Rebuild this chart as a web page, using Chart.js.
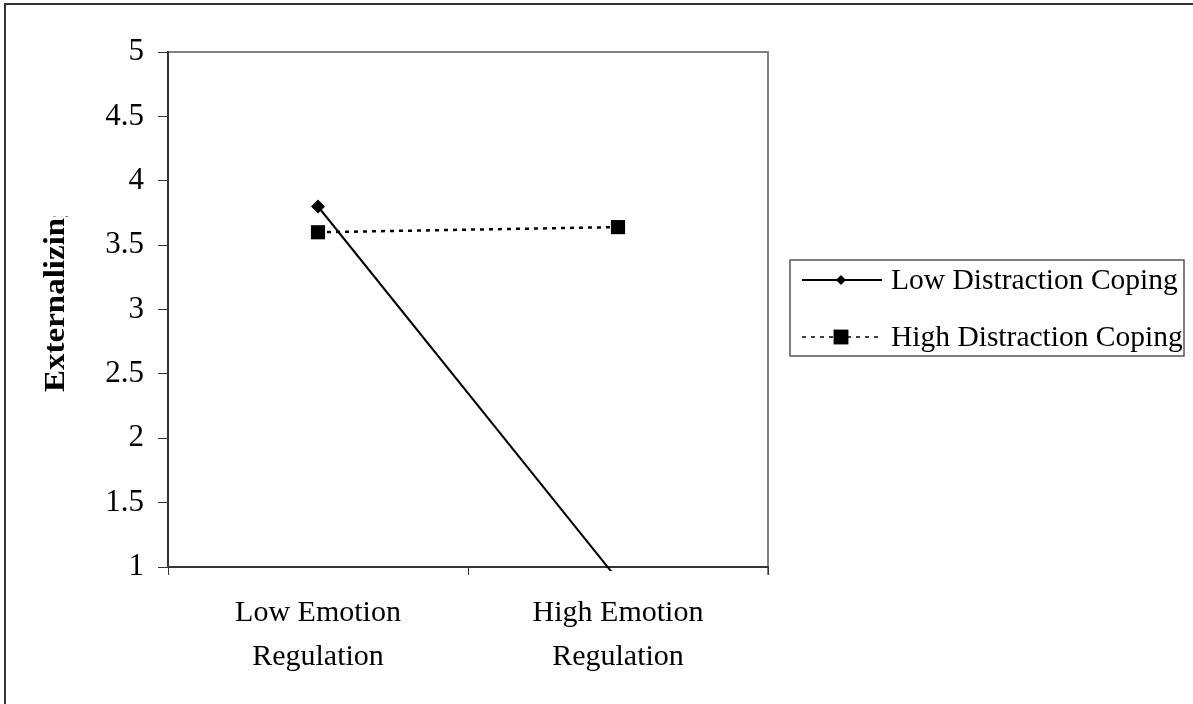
<!DOCTYPE html>
<html>
<head>
<meta charset="utf-8">
<title>Externalizing</title>
<script src="https://cdn.jsdelivr.net/npm/chart.js@4/dist/chart.umd.min.js"></script>
<style>
  body { margin: 0; background: #fff; }
  canvas { display: block; }
</style>
</head>
<body>
<canvas id="chart" width="1193" height="704"></canvas>
<script>
// data
const categories = [['Low Emotion', 'Regulation'], ['High Emotion', 'Regulation']];
const seriesNames = ['Low Distraction Coping', 'High Distraction Coping'];
const lowDistraction = [3.8, 0.9];
const highDistraction = [3.6, 3.64];
const yTicks = [1, 1.5, 2, 2.5, 3, 3.5, 4, 4.5, 5];
const yTitle = 'Externalizing';

const serif = "'Liberation Serif', 'Times New Roman', serif";
const ink = '#000';
const axisColor = '#333';

function markerPath(ctx, style, x, y, r) {
    ctx.beginPath();
    if (style === 'rectRot') {
        ctx.moveTo(x, y - r);
        ctx.lineTo(x + r, y);
        ctx.lineTo(x, y + r);
        ctx.lineTo(x - r, y);
    } else {
        let s = r * Math.SQRT1_2;
        ctx.rect(x - s, y - s, 2 * s, 2 * s);
    }
    ctx.closePath();
    ctx.fill();
}

// white page, outer frame, gray top/right plot border
const framePlugin = {
    id: 'frame',
    beforeDraw(chart) {
        const ctx = chart.ctx;
        ctx.save();
        ctx.fillStyle = '#fff';
        ctx.fillRect(0, 0, chart.width, chart.height);
        ctx.strokeStyle = axisColor;
        ctx.lineWidth = 2;
        ctx.beginPath();
        ctx.moveTo(5, chart.height);
        ctx.lineTo(5, 4);
        ctx.lineTo(chart.width, 4);
        ctx.stroke();

        const a = chart.chartArea;
        ctx.strokeStyle = '#808080';
        ctx.beginPath();
        ctx.moveTo(a.left, a.top);
        ctx.lineTo(a.right, a.top);
        ctx.lineTo(a.right, a.bottom + 8);
        ctx.stroke();
        ctx.restore();
    }
};

// y title, cut at the top like the original
const yTitlePlugin = {
    id: 'yTitle',
    afterDraw(chart) {
        const ctx = chart.ctx;
        ctx.save();
        ctx.beginPath();
        ctx.rect(0, 216, 160, 400);
        ctx.clip();
        ctx.translate(56, 392);
        ctx.rotate(-Math.PI / 2);
        ctx.scale(1.1, 1);
        ctx.font = 'bold 30px ' + serif;
        ctx.fillStyle = ink;
        ctx.textAlign = 'left';
        ctx.textBaseline = 'middle';
        ctx.fillText(yTitle, 0, 0);
        ctx.restore();
    }
};

// boxed legend with the line through the marker
const legendPlugin = {
    id: 'boxLegend',
    afterDraw(chart) {
        const ctx = chart.ctx;
        const box = { x: 790, y: 260, w: 394, h: 96 };
        ctx.save();
        ctx.strokeStyle = '#555';
        ctx.lineWidth = 1.5;
        ctx.strokeRect(box.x, box.y, box.w, box.h);

        ctx.font = '29.5px ' + serif;
        ctx.textBaseline = 'middle';
        ctx.textAlign = 'left';
        chart.data.datasets.forEach((ds, i) => {
            let y = box.y + 20 + i * 57;
            ctx.strokeStyle = ds.borderColor;
            ctx.lineWidth = ds.legendLineWidth;
            ctx.setLineDash(ds.borderDash || []);
            ctx.beginPath();
            ctx.moveTo(802, y);
            ctx.lineTo(882, y);
            ctx.stroke();
            ctx.setLineDash([]);
            ctx.fillStyle = ds.pointBackgroundColor;
            markerPath(ctx, ds.pointStyle, 841, y, ds.legendRadius);
            ctx.fillStyle = ink;
            ctx.fillText(ds.label, 891, y + 1);
        });
        ctx.restore();
    }
};

let myChart = new Chart(document.getElementById('chart').getContext('2d'), {
    type: 'line',
    data: {
        labels: categories,
        datasets: [{
            label: seriesNames[0],
            data: lowDistraction,
            borderColor: ink,
            borderWidth: 2,
            pointStyle: 'rectRot',
            pointRadius: 7,
            pointBackgroundColor: ink,
            pointBorderColor: ink,
            pointBorderWidth: 0,
            legendLineWidth: 2,
            legendRadius: 5,
            clip: 4,
            tension: 0
        }, {
            label: seriesNames[1],
            data: highDistraction,
            borderColor: ink,
            borderWidth: 2.5,
            borderDash: [4, 5],
            pointStyle: 'rect',
            pointRadius: 10,
            pointBackgroundColor: ink,
            pointBorderColor: ink,
            pointBorderWidth: 0,
            legendLineWidth: 1.5,
            legendRadius: 10.5,
            clip: 4,
            tension: 0
        }]
    },
    options: {
        responsive: false,
        animation: false,
        layout: { padding: { top: 52, right: 425, bottom: 0, left: 0 } },
        plugins: {
            legend: { display: false },
            tooltip: { enabled: false }
        },
        scales: {
            x: {
                offset: true,
                grid: {
                    offset: true,
                    drawOnChartArea: false,
                    drawTicks: true,
                    tickLength: 8,
                    color: axisColor
                },
                border: { display: true, color: axisColor, width: 2 },
                ticks: {
                    color: ink,
                    padding: 16,
                    maxRotation: 0,
                    font: { family: serif, size: 30, lineHeight: 1.47 }
                },
                afterFit: s => { s.height = 137; }
            },
            y: {
                min: 1,
                max: 5,
                afterBuildTicks: s => { s.ticks = yTicks.map(v => ({ value: v })); },
                grid: {
                    drawOnChartArea: false,
                    drawTicks: true,
                    tickLength: 10,
                    color: axisColor
                },
                border: { display: true, color: axisColor, width: 2 },
                ticks: {
                    color: ink,
                    padding: 14,
                    font: { family: serif, size: 31 },
                    callback: v => String(v)
                },
                afterFit: s => { s.width = 168; }
            }
        }
    },
    plugins: [framePlugin, yTitlePlugin, legendPlugin]
});
</script>
</body>
</html>
